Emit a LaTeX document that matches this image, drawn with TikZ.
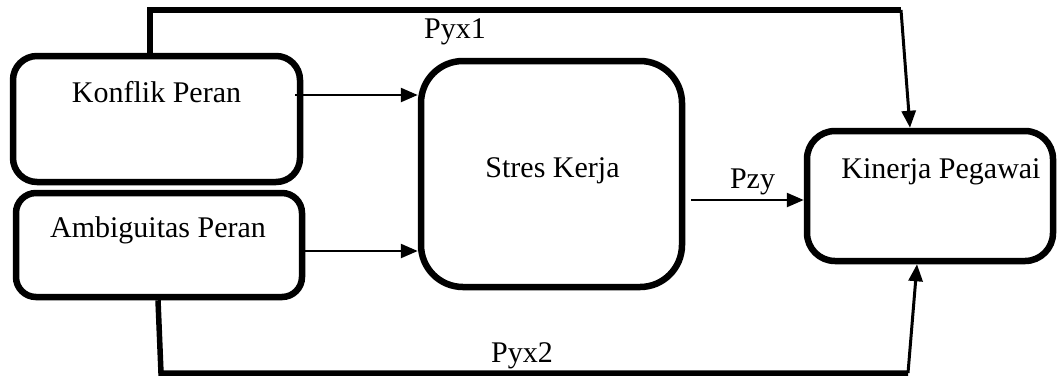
\documentclass[tikz,border=0pt]{standalone}
\usepackage{fontspec}
\setmainfont{Liberation Serif}
\usetikzlibrary{arrows.meta}

\begin{document}
\begin{tikzpicture}[x=1pt, y=-1pt, >={Triangle[length=17pt,width=14pt]},
        box/.style={rectangle, draw, line width=6.5pt, inner sep=0pt},
        lbl/.style={anchor=base, inner sep=0pt, font=\fontsize{30}{35}\selectfont},
        arr/.style={->, line width=2.5pt},
        route/.style={line width=6.5pt}]
        \useasboundingbox (0,0) rectangle (1062,376);

        % boxes
        \node[box, rounded corners=24pt, minimum width=287pt, minimum height=126pt] (kp) at (156.5,119) {};
        \node[box, rounded corners=20pt, minimum width=286pt, minimum height=104pt] (amb) at (159,245) {};
        \node[box, rounded corners=42pt, minimum width=261pt, minimum height=226pt] (sk) at (551.5,174) {};
        \node[box, rounded corners=28pt, minimum width=246pt, minimum height=130pt] (kpg) at (930,196) {};

        % texts
        \node[lbl] (kptext) at (156.5,102) {Konflik Peran};
        \node[lbl] (ambtext) at (158,237) {Ambiguitas Peran};
        \node[lbl] (sktext) at (552.5,177) {Stres Kerja};
        \node[lbl] (kpgtext) at (941,178) {Kinerja Pegawai};
        \node[lbl] (pyx1) at (455,38) {Pyx1};
        \node[lbl] (pyx2) at (522,362) {Pyx2};
        \node[lbl] (pzy) at (752.5,188) {Pzy};

        % corners of the outer routes
        \coordinate (t1) at (150,10);
        \coordinate (t2) at (901,10);
        \coordinate (b1) at (161,373);
        \coordinate (b2) at (908,373);

        \draw[arr] ([shift={(-8pt,24pt)}]kp.east) -- ([yshift=79pt]sk.west);
        \draw[arr] ([yshift=-6pt]amb.east) -- ([yshift=-77pt]sk.west);
        \draw[arr] ([shift={(6pt,-26pt)}]sk.east) -- ([yshift=-4pt]kpg.west);

        \draw[route] (kp.north -| t1) -- (t1) -- (t2);
        \draw[arr, line width=3pt] (t2) -- ([xshift=-20pt]kpg.north);
        \draw[route, line width=5.5pt] ([xshift=-1pt]amb.south) -- (b1) -- (b2);
        \draw[arr, line width=3pt] (b2) -- ([xshift=-13pt]kpg.south);
\end{tikzpicture}
\end{document}
